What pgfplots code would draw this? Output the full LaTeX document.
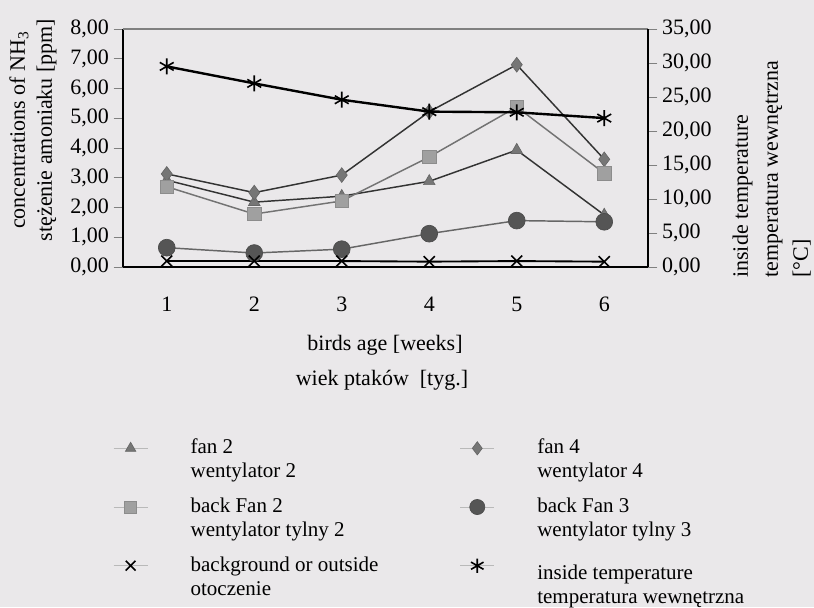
\documentclass[border=0pt]{standalone}
\usepackage{pgfplots}
\pgfplotsset{compat=1.18}
\usepackage{fontspec}
\setmainfont{Liberation Serif}
\definecolor{bg}{RGB}{234,232,234}
\definecolor{mkA}{RGB}{118,118,118}
\definecolor{mkB}{RGB}{160,160,160}
\definecolor{mkC}{RGB}{85,85,85}
\pgfkeys{/pgf/number format/assume math mode=true}
\begin{document}
\begin{tikzpicture}
\path[fill=bg, use as bounding box] (-92.25pt,-255pt) rectangle (518.25pt,200.25pt);
\begin{axis}[
  name=main, scale only axis, width=393.75pt, height=178.5pt,
  at={(0,0)}, anchor=south west, clip=false,
  axis x line*=bottom, axis y line*=left,
  axis line style={black, line width=1.2pt},
  xmin=0.5, xmax=6.5, ymin=0, ymax=8,
  xtick={1,...,6}, ytick={0,1,...,8},
  tick align=outside, major tick length=7pt,
  ytick style={gray, line width=0.6pt}, xtick style={draw=none},
  yticklabel style={/pgf/number format/.cd, fixed, fixed zerofill, precision=2, use comma},
  xticklabel style={yshift=-12pt},
  tick label style={font=\fontsize{16.5}{18}\selectfont},
  legend columns=2,
  legend style={draw=none, fill=none, inner sep=0pt, row sep=13.6pt,
    at={(rel axis cs:-0.019,-0.721)}, anchor=north west,
    font=\fontsize{15.75}{18}\selectfont,
    nodes={inner sep=0pt, anchor=base west},
    /tikz/every odd column/.append style={column sep=32pt},
    /tikz/every even column/.append style={column sep=12pt}},
  legend image code/.code={
      \draw[gray!55, line width=0.5pt] (0pt,22pt) -- (25.5pt,22pt);
      \draw[#1, only marks, /tikz/every mark/.append style={scale=0.9}]
        plot coordinates {(12.75pt,22pt)};},
]
\draw[gray, line width=0.8pt] (rel axis cs:0,1) -- (rel axis cs:1,1);
\addplot[color=black!80, line width=1.1pt, mark=triangle*, mark size=5pt,
  mark options={fill=mkA, draw=black!60, line width=0.5pt}]
  coordinates {(1,2.92) (2,2.18) (3,2.38) (4,2.88) (5,3.93) (6,1.75)};
\addlegendentry{\parbox[b]{190pt}{fan 2\\wentylator 2}}
\addplot[color=black!80, line width=1.1pt, mark=diamond*, mark size=5.5pt,
  mark options={fill=mkA, draw=black!60, line width=0.5pt}]
  coordinates {(1,3.13) (2,2.50) (3,3.09) (4,5.22) (5,6.80) (6,3.62)};
\addlegendentry{\parbox[b]{190pt}{fan 4\\wentylator 4}}
\addplot[color=black!55, line width=1.1pt, mark=square*, mark size=5pt,
  mark options={fill=mkB, draw=black!45, line width=0.5pt}]
  coordinates {(1,2.70) (2,1.78) (3,2.22) (4,3.70) (5,5.38) (6,3.15)};
\addlegendentry{\parbox[b]{190pt}{back Fan 2\\wentylator tylny 2}}
\addplot[color=black!60, line width=1.1pt, mark=*, mark size=6.3pt,
  mark options={fill=mkC, draw=black!70, line width=0.5pt}]
  coordinates {(1,0.65) (2,0.47) (3,0.60) (4,1.12) (5,1.56) (6,1.52)};
\addlegendentry{\parbox[b]{190pt}{back Fan 3\\wentylator tylny 3}}
\addplot[color=black, line width=1.4pt, mark=x, mark size=5.8pt,
  mark options={line width=1.2pt}]
  coordinates {(1,0.20) (2,0.20) (3,0.20) (4,0.18) (5,0.20) (6,0.18)};
\addlegendentry{\parbox[b]{190pt}{background or outside\\otoczenie}}
\addlegendimage{color=black, line width=1.8pt, mark=asterisk, mark size=6pt, mark options={line width=1.2pt}}
\addlegendentry{\raisebox{-6pt}{\parbox[b]{190pt}{inside temperature\\temperatura wewnętrzna}}}
\end{axis}
\begin{axis}[
  scale only axis, width=393.75pt, height=178.5pt,
  at={(0,0)}, anchor=south west, clip=false,
  axis y line*=right, axis x line=none,
  axis line style={black, line width=1.2pt},
  xmin=0.5, xmax=6.5, ymin=0, ymax=35,
  ytick={0,5,...,35},
  tick align=outside, major tick length=7pt,
  ytick style={gray, line width=0.6pt},
  yticklabel style={/pgf/number format/.cd, fixed, fixed zerofill, precision=2, use comma},
  tick label style={font=\fontsize{16.5}{18}\selectfont},
]
\addplot[color=black, line width=1.8pt, mark=asterisk, mark size=6pt,
  mark options={line width=1.2pt}]
  coordinates {(1,29.5) (2,27.0) (3,24.6) (4,22.85) (5,22.75) (6,21.9)};
\end{axis}
\node[rotate=90, align=center, font=\fontsize{16.5}{20.25}\selectfont] at (-67.5pt,102.75pt) {concentrations of NH\textsubscript{3}\\stężenie amoniaku [ppm]};
\node[rotate=90, anchor=north west, align=left, inner sep=0pt, font=\fontsize{16.5}{22.5}\selectfont] at (457pt,-8.25pt) {inside temperature\\temperatura wewnętrzna\\{[}°C{]}};
\node[font=\fontsize{16.5}{20}\selectfont] at (196.5pt,-58.5pt) {birds age [weeks]};
\node[font=\fontsize{16.5}{20}\selectfont] at (194.25pt,-84.75pt) {wiek ptaków\ \ [tyg.]};
\end{tikzpicture}
\end{document}
